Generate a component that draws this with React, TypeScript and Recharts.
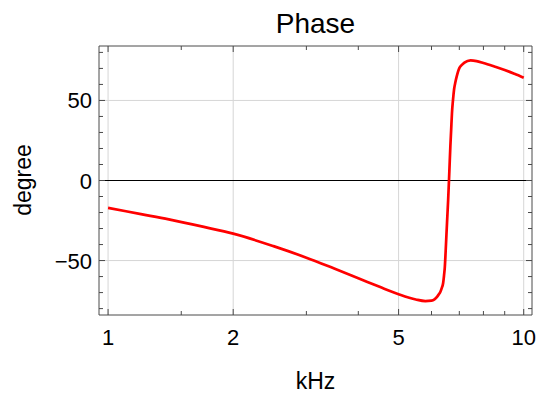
import React from "react";
import { LineChart, Line, XAxis, YAxis, ReferenceLine } from "recharts";

const freqKHz = [1.0, 1.2, 1.4, 1.7, 2.0, 2.5, 3.0, 3.5, 4.0, 4.5, 5.0, 5.5, 5.8, 6.0, 6.1, 6.2, 6.25, 6.3, 6.35, 6.4, 6.43, 6.46, 6.49, 6.52, 6.55, 6.58, 6.61, 6.63, 6.66, 6.69, 6.72, 6.76, 6.8, 6.85, 6.9, 6.95, 7.0, 7.1, 7.2, 7.45, 7.7, 8.0, 8.5, 9.0, 9.5, 10];
const phaseDeg = [-17.1, -21, -24.3, -29, -33.2, -41, -48.2, -55, -61, -66.4, -71, -74.3, -75.3, -75.0, -74.2, -72.4, -71.1, -69.6, -67.2, -64, -59.5, -54, -44, -33, -22.5, -12, 0, 8.5, 21, 31.5, 42, 50.5, 57, 61.5, 65, 68, 70.2, 72.2, 73.6, 75, 74.6, 73.4, 71.2, 69, 66.6, 64.2];

const xMajorTicks = [1, 2, 5, 10];
const xMinorTicks = [1.5, 3, 4, 6, 7, 8, 9];
const yMajorTicks = [-50, 0, 50];
const yMinorTicks = [-80, -70, -60, -40, -30, -20, -10, 10, 20, 30, 40, 60, 70, 80];

const title = "Phase";
const xLabel = "kHz";
const yLabel = "degree";

const data = freqKHz.map((f, i) => ({ f, phase: phaseDeg[i] }));
const xTicks = [...xMajorTicks, ...xMinorTicks].sort((a, b) => a - b);
const yTicks = [...yMajorTicks, ...yMinorTicks].sort((a, b) => a - b);

const FONT = "'Liberation Sans', Arial, sans-serif";
const FRAME = "#4a4a4a";
const GRID = "#d6d6d6";
const MAJ = 6;
const MIN = 4;

const fmtMinus = (v: number) => (v < 0 ? "\u2212" + Math.abs(v) : String(v));

const BottomTick = (props: any) => {
  const { x, y, payload } = props;
  const major = xMajorTicks.includes(payload.value);
  return (
    <g>
      <line x1={x} x2={x} y1={y} y2={y - (major ? MAJ : MIN)} stroke={FRAME} strokeWidth={1} />
      {major && (
        <text x={x} y={y + 30} textAnchor="middle" fontSize={22} fontFamily={FONT} fill="#000">
          {payload.value}
        </text>
      )}
    </g>
  );
};

const TopTick = (props: any) => {
  const { x, y, payload } = props;
  const major = xMajorTicks.includes(payload.value);
  return <line x1={x} x2={x} y1={y} y2={y + (major ? MAJ : MIN)} stroke={FRAME} strokeWidth={1} />;
};

const LeftTick = (props: any) => {
  const { x, y, payload } = props;
  const major = yMajorTicks.includes(payload.value);
  return (
    <g>
      <line x1={x} x2={x + (major ? MAJ : MIN)} y1={y} y2={y} stroke={FRAME} strokeWidth={1} />
      {major && (
        <text x={x - 7} y={y + 8} textAnchor="end" fontSize={22} fontFamily={FONT} fill="#000">
          {fmtMinus(payload.value)}
        </text>
      )}
    </g>
  );
};

const RightTick = (props: any) => {
  const { x, y, payload } = props;
  const major = yMajorTicks.includes(payload.value);
  return <line x1={x} x2={x - (major ? MAJ : MIN)} y1={y} y2={y} stroke={FRAME} strokeWidth={1} />;
};

export default function App() {
  const W = 539;
  const H = 396;
  return (
    <div style={{ position: "absolute", left: 0, top: 0, width: W, height: H, background: "#fff" }}>
      <LineChart width={W} height={H} data={data} margin={{ top: 45, right: 6, bottom: 80, left: 98 }}>
        <XAxis
          dataKey="f"
          type="number"
          scale="log"
          domain={[0.951, 10.47]}
          ticks={xTicks}
          interval={0}
          tickSize={0}
          tickMargin={0}
          height={1}
          stroke={FRAME}
          tick={BottomTick}
        />
        <XAxis
          xAxisId="top"
          orientation="top"
          dataKey="f"
          type="number"
          scale="log"
          domain={[0.951, 10.47]}
          ticks={xTicks}
          interval={0}
          tickSize={0}
          tickMargin={0}
          height={1}
          stroke={FRAME}
          tick={TopTick}
        />
        <YAxis
          type="number"
          domain={[-84, 84]}
          allowDataOverflow
          ticks={yTicks}
          interval={0}
          tickSize={0}
          tickMargin={0}
          width={1}
          stroke={FRAME}
          tick={LeftTick}
        />
        <YAxis
          yAxisId="right"
          orientation="right"
          type="number"
          domain={[-84, 84]}
          allowDataOverflow
          ticks={yTicks}
          interval={0}
          tickSize={0}
          tickMargin={0}
          width={1}
          stroke={FRAME}
          tick={RightTick}
        />
        {xMajorTicks.map((v) => (
          <ReferenceLine key={"gx" + v} x={v} stroke={GRID} strokeWidth={1} />
        ))}
        {yMajorTicks
          .filter((v) => v !== 0)
          .map((v) => (
            <ReferenceLine key={"gy" + v} y={v} stroke={GRID} strokeWidth={1} />
          ))}
        <ReferenceLine y={0} stroke="#000" strokeWidth={1} />
        <Line
          dataKey="phase"
          type="monotone"
          stroke="#ff0000"
          strokeWidth={2.7}
          dot={false}
          isAnimationActive={false}
        />
      </LineChart>
      <svg
        width={W}
        height={H}
        style={{ position: "absolute", left: 0, top: 0, pointerEvents: "none" }}
      >
        <text x={315.5} y={33} textAnchor="middle" fontSize={28} fontFamily={FONT} fill="#000">
          {title}
        </text>
        <text
          x={0}
          y={0}
          transform="translate(31,180) rotate(-90)"
          textAnchor="middle"
          fontSize={23}
          fontFamily={FONT}
          fill="#000"
        >
          {yLabel}
        </text>
        <text x={315.5} y={389} textAnchor="middle" fontSize={23} fontFamily={FONT} fill="#000">
          {xLabel}
        </text>
      </svg>
    </div>
  );
}
